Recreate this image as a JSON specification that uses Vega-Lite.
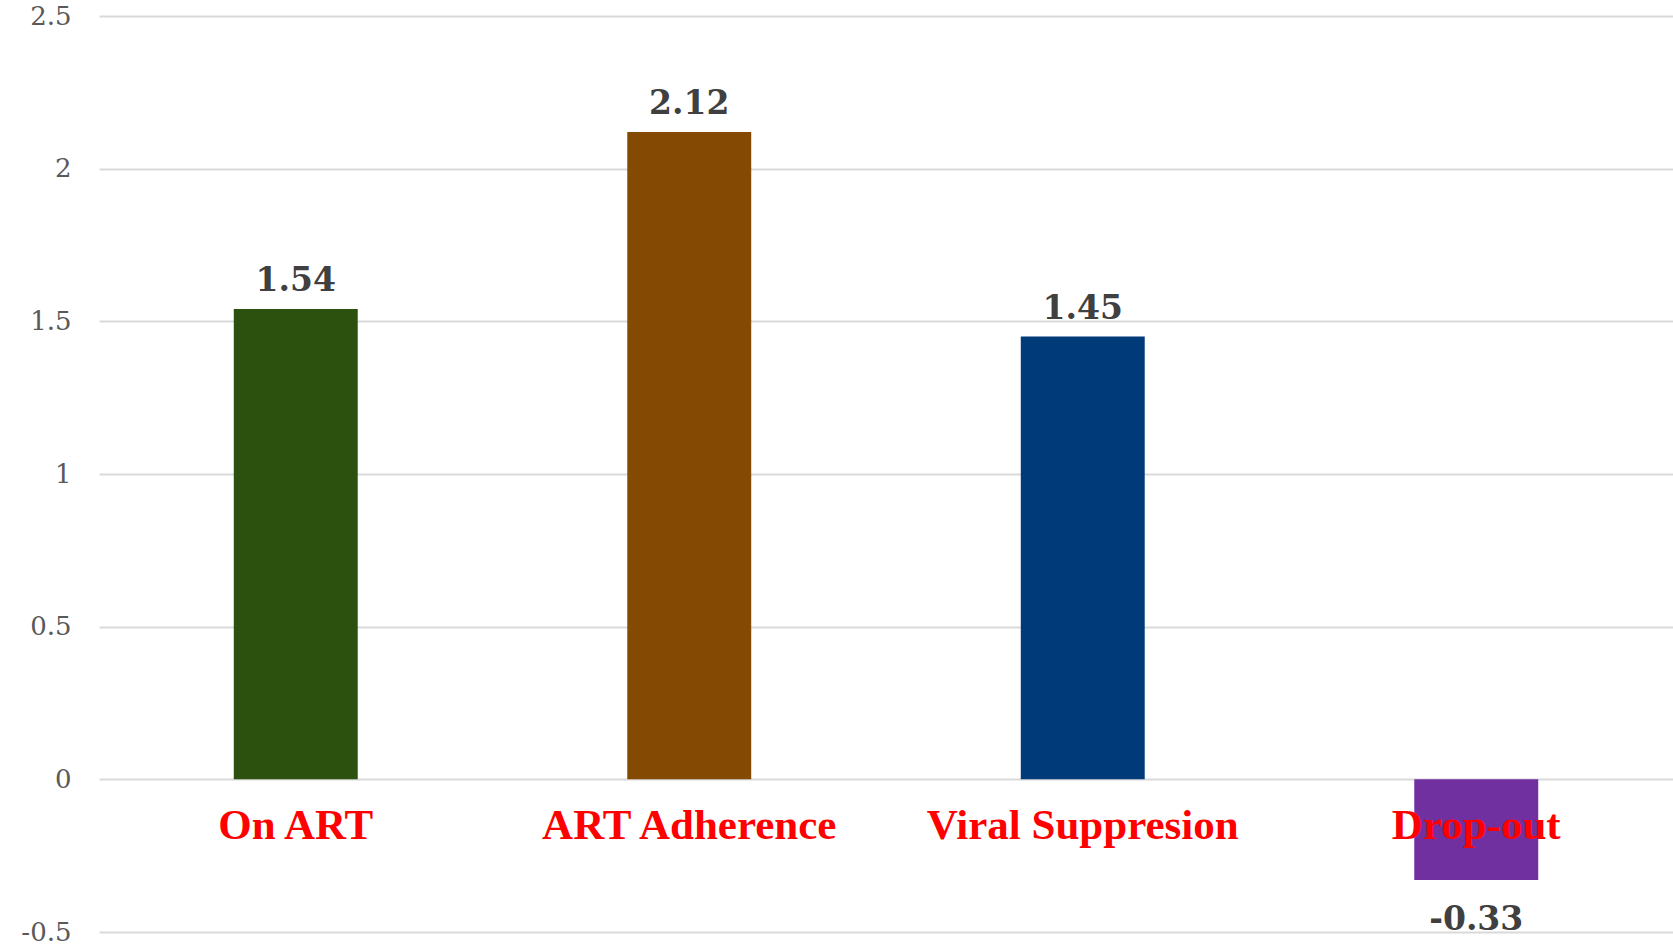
{
  "$schema": "https://vega.github.io/schema/vega-lite/v6.json",
  "width": 1574,
  "height": 916,
  "autosize": {"type": "none"},
  "padding": {"left": 99, "top": 16, "right": 0, "bottom": 15},
  "background": "white",
  "config": {"view": {"stroke": null}},
  "data": {
    "values": [
      {"category": "On ART", "value": 1.54},
      {"category": "ART Adherence", "value": 2.12},
      {"category": "Viral Suppresion", "value": 1.45},
      {"category": "Drop-out", "value": -0.33}
    ]
  },
  "encoding": {
    "x": {
      "field": "category",
      "type": "nominal",
      "sort": null,
      "scale": {"paddingInner": 0.685, "paddingOuter": 0.3425},
      "axis": null
    }
  },
  "layer": [
    {
      "mark": {"type": "bar"},
      "encoding": {
        "y": {
          "field": "value",
          "type": "quantitative",
          "scale": {"domain": [-0.5, 2.5], "nice": false, "zero": false},
          "axis": {
            "title": null,
            "values": [-0.5, 0, 0.5, 1, 1.5, 2, 2.5],
            "labelExpr": "'' + datum.value",
            "grid": true,
            "gridColor": "#d9d9d9",
            "gridWidth": 2,
            "domain": false,
            "ticks": false,
            "labelFont": "DejaVu Serif",
            "labelFontSize": 26,
            "labelColor": "#595959",
            "labelPadding": 28
          }
        },
        "color": {
          "field": "category",
          "type": "nominal",
          "sort": null,
          "scale": {
            "domain": ["On ART", "ART Adherence", "Viral Suppresion", "Drop-out"],
            "range": ["#2C500E", "#844A04", "#003A78", "#7030A0"]
          },
          "legend": null
        }
      }
    },
    {
      "transform": [{"filter": "datum.value >= 0"}],
      "mark": {
        "type": "text",
        "font": "DejaVu Serif",
        "fontWeight": "bold",
        "fontSize": 33,
        "color": "#404040",
        "baseline": "alphabetic",
        "dy": -18
      },
      "encoding": {
        "y": {"field": "value", "type": "quantitative"},
        "text": {"field": "value", "type": "nominal"}
      }
    },
    {
      "transform": [{"filter": "datum.value < 0"}],
      "mark": {
        "type": "text",
        "font": "DejaVu Serif",
        "fontWeight": "bold",
        "fontSize": 33,
        "color": "#404040",
        "baseline": "alphabetic",
        "dy": 50
      },
      "encoding": {
        "y": {"field": "value", "type": "quantitative"},
        "text": {"field": "value", "type": "nominal"}
      }
    },
    {
      "mark": {
        "type": "text",
        "font": "Liberation Serif",
        "fontWeight": "bold",
        "fontSize": 43,
        "color": "#FF0000",
        "baseline": "alphabetic",
        "dy": 60
      },
      "encoding": {
        "y": {"datum": 0, "type": "quantitative"},
        "text": {"field": "category", "type": "nominal"}
      }
    }
  ]
}
